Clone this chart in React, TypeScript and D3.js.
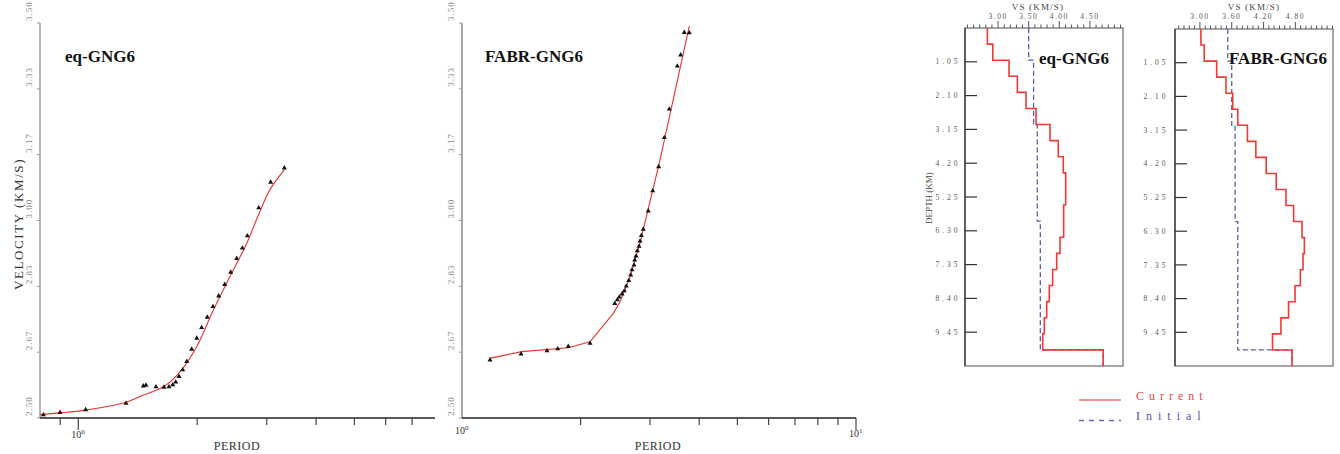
import React from 'react';
import * as d3 from 'd3';

const W = 1340, H = 454;
const serif = '"Liberation Serif", "Times New Roman", serif';

// ---- dispersion curves (period s, group velocity km/s)
const eqObsPeriod = [0.816, 0.899, 1.044, 1.321, 1.461, 1.484, 1.573, 1.648, 1.697, 1.734, 1.765, 1.799, 1.838, 1.882,
  1.937, 1.995, 2.053, 2.121, 2.193, 2.267, 2.348, 2.432, 2.518, 2.602, 2.679, 2.863, 3.070, 3.324];
const eqObsVel = [2.508, 2.514, 2.521, 2.537, 2.581, 2.583, 2.579, 2.578, 2.579, 2.584, 2.591, 2.605, 2.622, 2.643,
  2.674, 2.702, 2.729, 2.755, 2.782, 2.809, 2.838, 2.869, 2.904, 2.930, 2.961, 3.032, 3.097, 3.133];
const eqFitPeriod = [0.80, 0.899, 1.044, 1.321, 1.461, 1.642, 1.810, 1.995, 2.197, 2.421, 2.669, 2.863, 3.065, 3.324];
const eqFitVel = [2.509, 2.513, 2.520, 2.540, 2.558, 2.579, 2.617, 2.681, 2.773, 2.858, 2.942, 3.016, 3.080, 3.128];

const fabrObsPeriod = [1.178, 1.412, 1.644, 1.750, 1.861, 2.113, 2.442, 2.479, 2.507, 2.547, 2.582, 2.612, 2.649, 2.680,
  2.701, 2.733, 2.744, 2.765, 2.786, 2.814, 2.830, 2.852, 2.885, 2.970, 3.048, 3.156, 3.262, 3.358, 3.520, 3.590, 3.666, 3.775];
const fabrObsVel = [2.647, 2.662, 2.670, 2.675, 2.681, 2.689, 2.790, 2.799, 2.806, 2.814, 2.822, 2.834, 2.848, 2.862,
  2.875, 2.887, 2.900, 2.910, 2.923, 2.935, 2.948, 2.962, 2.978, 3.024, 3.075, 3.136, 3.210, 3.282, 3.391, 3.419, 3.476, 3.475];
const fabrFitPeriod = [1.173, 1.418, 1.861, 2.113, 2.421, 2.518, 2.669, 2.830, 3.180, 3.775];
const fabrFitVel = [2.651, 2.668, 2.678, 2.693, 2.765, 2.794, 2.857, 2.943, 3.153, 3.492];

const velTicks = [2.5, 2.6667, 2.8333, 3.0, 3.1667, 3.3333, 3.5];
const velLabels = ['2.50', '2.67', '2.83', '3.00', '3.17', '3.33', '3.50'];
const eqPeriodTicks = [0.9, 1, 2, 3, 4, 5, 6, 7];
const fabrPeriodTicks = [2, 3, 4, 5, 6, 7, 8, 9, 10];

// ---- velocity models (layer top depth km, Vs km/s)
const layerTops = [0, 0.5, 1.0, 1.5, 2.0, 2.5, 3.0, 3.5, 4.0, 4.5, 5.0, 5.5, 6.0, 6.5, 7.0, 7.5, 8.0, 8.5, 9.0, 9.5, 10.0];
const eqCurrent = [2.826, 2.914, 3.179, 3.315, 3.457, 3.620, 3.848, 3.983, 4.065, 4.104, 4.104, 4.071, 4.071, 4.011,
  3.957, 3.892, 3.836, 3.794, 3.755, 3.729, 4.717];
const fabrCurrent = [3.019, 3.081, 3.316, 3.492, 3.619, 3.714, 3.896, 4.055, 4.250, 4.439, 4.623, 4.767, 4.926, 4.970,
  4.945, 4.894, 4.794, 4.672, 4.528, 4.369, 4.737];
const initTops = [0, 1.0, 3.0, 6.0, 10.0];
const eqInitial = [3.50, 3.58, 3.64, 3.69, 4.717];
const fabrInitial = [3.525, 3.60, 3.663, 3.714, 4.737];
const modelBottom = 10.5;
const depthTicks = [1.05, 2.10, 3.15, 4.20, 5.25, 6.30, 7.35, 8.40, 9.45];
const eqVsLabels = [3.0, 3.5, 4.0, 4.5];
const fabrVsLabels = [3.0, 3.6, 4.2, 4.8];

const tri = d3.symbol().type(d3.symbolTriangle).size(11)() as string;

function Dispersion({ x, y, period, vel, fitP, fitV, pTicks, title, titleX, yLabelX, yAxisColor, yAxisWidth,
  major, showYTitle, periodX, decadeLabels }: any) {
  const [x0, x1] = x.range();
  const [yb, yt] = y.range();
  const line = d3.line<number>().x(i => x(fitP[i])).y(i => y(fitV[i]))
    .curve(showYTitle ? d3.curveCatmullRom.alpha(0.5) : d3.curveLinear);
  return (
    <g>
      <line x1={x0} x2={x0} y1={yt} y2={yb} stroke={yAxisColor} strokeWidth={yAxisWidth} />
      <line x1={x0} x2={x1} y1={yb} y2={yb} stroke="#222" strokeWidth={1.3} />
      {velTicks.map((v, i) => (
        <g key={i}>
          <line x1={x0 - 3} x2={x0} y1={y(v)} y2={y(v)} stroke="#999" strokeWidth={1} />
          <text transform={`translate(${yLabelX},${y(v) - 2}) rotate(-90)`} dy="0.35em" fontSize={9}
            letterSpacing={1} fill="#888" fontFamily={serif}>{velLabels[i]}</text>
        </g>
      ))}
      {pTicks.map((p: number) => (
        <line key={p} x1={x(p)} x2={x(p)} y1={yb} y2={yb + (p === major ? 12 : 7)} stroke="#444" strokeWidth={1.2} />
      ))}
      {decadeLabels.map((d: any) => (
        <text key={d.e} x={x(d.v) - 7} y={d.y} fontSize={10} fill="#333" fontFamily={serif}>10
          <tspan fontSize={7} dy={-4}>{d.e}</tspan></text>
      ))}
      <text x={periodX} y={450} textAnchor="middle" fontSize={12} letterSpacing={0.5} fill="#333" fontFamily={serif}>PERIOD</text>
      {showYTitle && (
        <text transform={`translate(18,224) rotate(-90)`} textAnchor="middle" dy="0.35em" fontSize={13}
          letterSpacing={1.6} fill="#333" fontFamily={serif}>VELOCITY (KM/S)</text>
      )}
      <path d={line(d3.range(fitP.length)) as string} fill="none" stroke="#e8322e" strokeWidth={1.1} />
      {period.map((p: number, i: number) => (
        <path key={i} d={tri} transform={`translate(${x(p)},${y(vel[i])})`} fill="#111" />
      ))}
      <text x={titleX} y={62} fontSize={17} fontWeight="bold" fill="#111" fontFamily={serif}>{title}</text>
    </g>
  );
}

function steps(tops: number[], vals: number[]) {
  const pts: [number, number][] = [];
  vals.forEach((v, i) => {
    const b = i + 1 < tops.length ? tops[i + 1] : modelBottom;
    pts.push([v, tops[i]], [v, b]);
  });
  return pts;
}

function Model({ xs, ys, current, initial, vsLabels, title, titleX, depthLabelX, showDepthTitle, vsTitleX }: any) {
  const [l, r] = xs.range();
  const [t, b] = ys.range();
  const [d0, d1] = xs.domain();
  const minor = d3.range(Math.ceil(d0 * 10), Math.floor(d1 * 10) + 1).map(k => k / 10);
  const line = d3.line<[number, number]>().x(d => xs(d[0])).y(d => ys(d[1]));
  return (
    <g>
      <rect x={l} y={t} width={r - l} height={b - t} fill="none" stroke="#777" strokeWidth={1.3} />
      <line x1={l} x2={l} y1={t} y2={b} stroke="#444" strokeWidth={1.5} />
      {minor.map(v => {
        const isMajor = vsLabels.some((m: number) => Math.abs(m - v) < 1e-6);
        return <line key={v} x1={xs(v)} x2={xs(v)} y1={t} y2={t - (isMajor ? 7 : 3.5)} stroke="#555" strokeWidth={1} />;
      })}
      {vsLabels.map((v: number) => (
        <text key={v} x={xs(v)} y={19} textAnchor="middle" fontSize={7.5} letterSpacing={1.5} fill="#555"
          fontFamily={serif}>{v.toFixed(2)}</text>
      ))}
      <text x={vsTitleX} y={10} textAnchor="middle" fontSize={9} letterSpacing={1.2} fill="#444" fontFamily={serif}>VS (KM/S)</text>
      {depthTicks.map(d => (
        <g key={d}>
          <line x1={l} x2={l + 12} y1={ys(d)} y2={ys(d)} stroke="#333" strokeWidth={1.2} />
          <text x={depthLabelX} y={ys(d)} dy="0.35em" textAnchor="middle" fontSize={7.5} letterSpacing={3}
            fill="#555" fontFamily={serif}>{d.toFixed(2)}</text>
        </g>
      ))}
      {showDepthTitle && (
        <text transform={`translate(929,198) rotate(-90)`} textAnchor="middle" dy="0.35em" fontSize={9}
          fill="#444" fontFamily={serif}>DEPTH (KM)</text>
      )}
      <path d={line(steps(initTops, initial)) as string} fill="none" stroke="#5b5bab" strokeWidth={1.3} strokeDasharray="5,3" />
      <path d={line(steps(layerTops, current)) as string} fill="none" stroke="#ee3a36" strokeWidth={1.6} />
      <text x={titleX} y={64} fontSize={17} fontWeight="bold" fill="#111" fontFamily={serif}>{title}</text>
    </g>
  );
}

export default function App() {
  const y = d3.scaleLinear().domain([2.5, 3.5]).range([418, 23]);
  const xEq = d3.scaleLog().domain([0.8, 8]).range([40, 435]);
  const xFabr = d3.scaleLog().domain([1, 10]).range([462, 856]);
  const depthEq = d3.scaleLinear().domain([0, modelBottom]).range([28, 366]);
  const depthFabr = d3.scaleLinear().domain([0, modelBottom]).range([29, 366]);
  const vsEq = d3.scaleLinear().domain([2.46, 5.04]).range([965, 1123]);
  const vsFabr = d3.scaleLinear().domain([2.53, 5.51]).range([1175, 1333]);

  return (
    <svg width={W} height={H} style={{ position: 'absolute', left: 0, top: 0, background: '#fff' }}>
      <Dispersion x={xEq} y={y} period={eqObsPeriod} vel={eqObsVel} fitP={eqFitPeriod} fitV={eqFitVel}
        pTicks={eqPeriodTicks} major={1} title="eq-GNG6" titleX={65} yLabelX={29} yAxisColor="#b5b5b5" yAxisWidth={2}
        showYTitle periodX={237} decadeLabels={[{ v: 1, e: '0', y: 438 }]} />
      <Dispersion x={xFabr} y={y} period={fabrObsPeriod} vel={fabrObsVel} fitP={fabrFitPeriod} fitV={fabrFitVel}
        pTicks={fabrPeriodTicks} major={10} title="FABR-GNG6" titleX={485} yLabelX={451} yAxisColor="#555" yAxisWidth={1}
        showYTitle={false} periodX={658} decadeLabels={[{ v: 1, e: '0', y: 434 }, { v: 10, e: '1', y: 437 }]} />
      <Model xs={vsEq} ys={depthEq} current={eqCurrent} initial={eqInitial} vsLabels={eqVsLabels} title="eq-GNG6"
        titleX={1039} depthLabelX={948} showDepthTitle vsTitleX={1038} />
      <Model xs={vsFabr} ys={depthFabr} current={fabrCurrent} initial={fabrInitial} vsLabels={fabrVsLabels} title="FABR-GNG6"
        titleX={1229} depthLabelX={1156} showDepthTitle={false} vsTitleX={1254} />
      <line x1={1079} x2={1121} y1={400} y2={400} stroke="#f07070" strokeWidth={1.5} />
      <text x={1136} y={400} fontSize={12} letterSpacing={5} fill="#e04848" fontFamily={serif}>Current</text>
      <line x1={1079} x2={1121} y1={420.5} y2={420.5} stroke="#6868b0" strokeWidth={1.3} strokeDasharray="5,5" />
      <text x={1136} y={420} fontSize={12} letterSpacing={6} fill="#5555a0" fontFamily={serif}>Initial</text>
    </svg>
  );
}
